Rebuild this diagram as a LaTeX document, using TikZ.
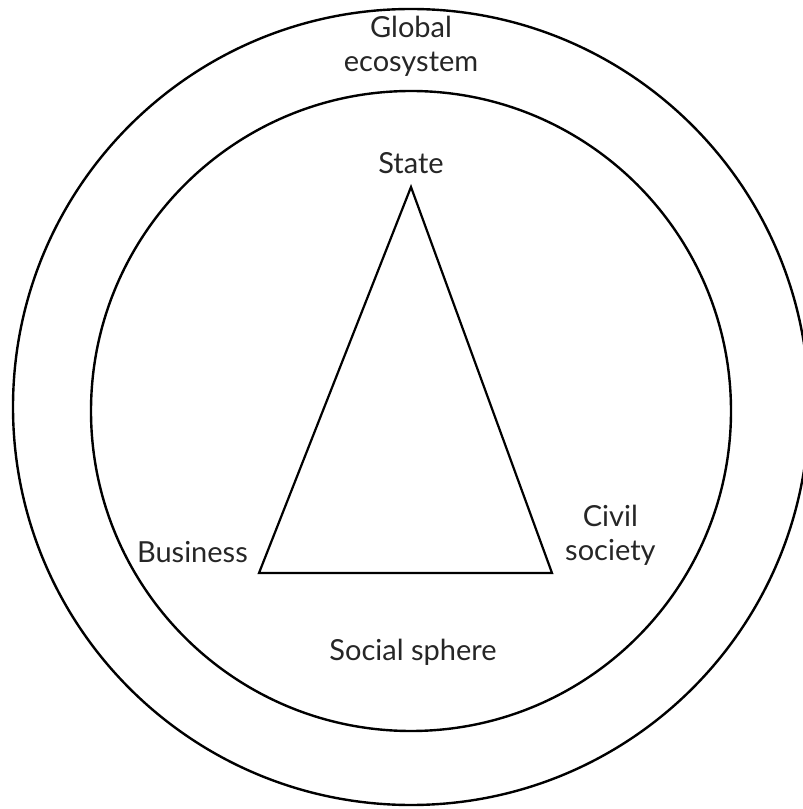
\documentclass[tikz,border=0pt]{standalone}
\usepackage{fontspec}
\setmainfont{Lato}
\usetikzlibrary{positioning}
\tikzstyle{ring}  = [line width=2.4pt, draw=black]
\tikzstyle{label} = [font=\fontsize{29}{34}\selectfont, text=black!85, inner sep=0pt, align=center]

\begin{document}
\begin{tikzpicture}[x=1pt, y=1pt]
  \useasboundingbox (0,0) rectangle (803,809);
  % spheres
  \node (outer) [ring, circle, minimum size=796pt, inner sep=0pt] at (411,402) {};
  \node (inner) [ring, circle, minimum size=640pt, inner sep=0pt] at (411,398) {};
  % triangle corners
  \coordinate (apex)  at (411,622);
  \coordinate (left)  at (259,236);
  \coordinate (right) at (552,236);
  \draw [line width=2.2pt, line join=miter] (apex) -- (right) -- (left) -- cycle;
  % labels
  \node (global)   [label] at (411,763) {Global\\ecosystem};
  \node (state)    [label, above=13pt of apex] {State};
  \node (business) [label, left=11pt of left, yshift=21pt] {Business};
  \node (civil)    [label, right=13pt of right, yshift=38pt] {Civil\\society};
  \node (social)   [label] at (413,157) {Social sphere};
\end{tikzpicture}
\end{document}
